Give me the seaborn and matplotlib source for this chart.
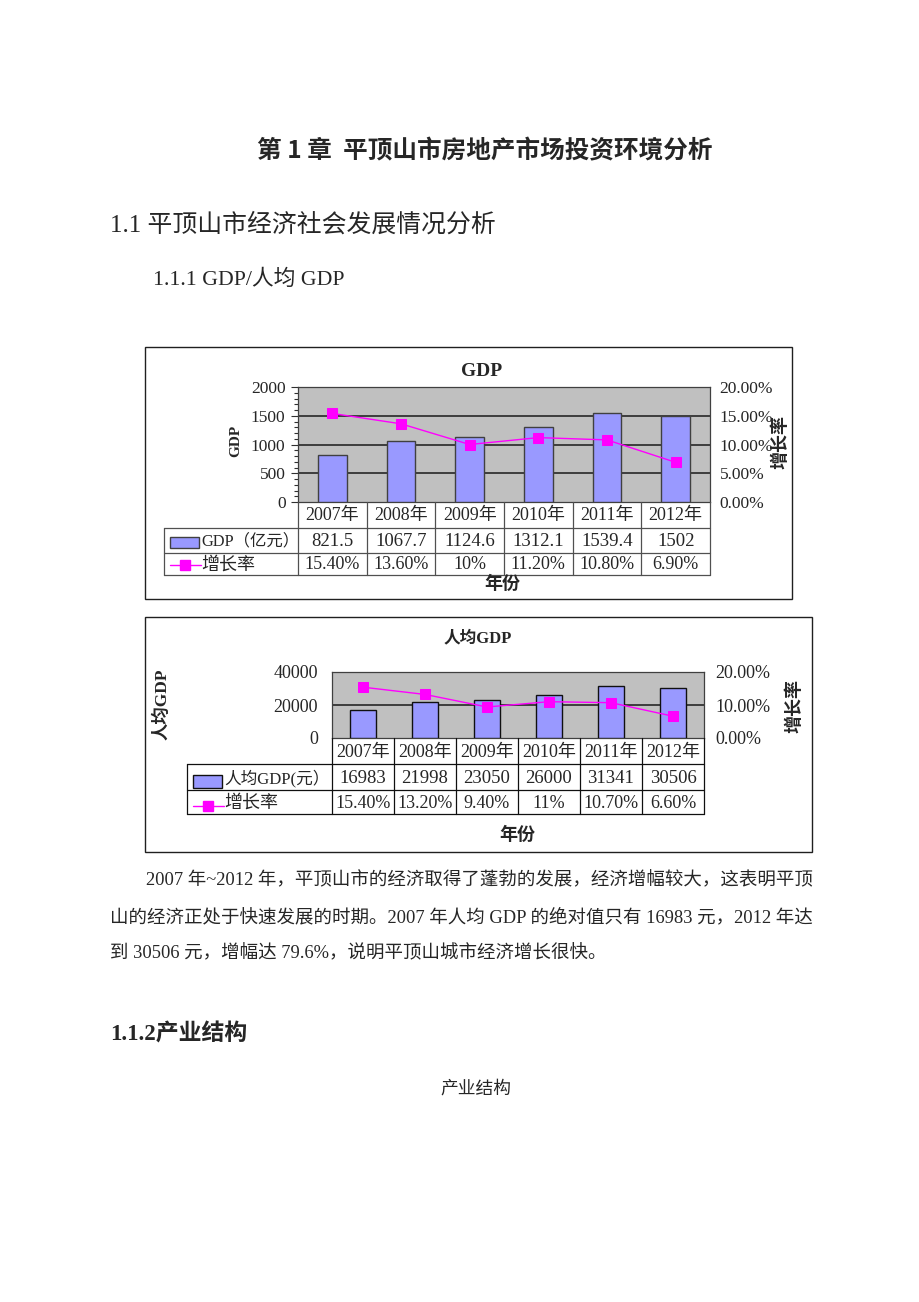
import numpy as np
import matplotlib
matplotlib.use('Agg')
import matplotlib.pyplot as plt
import matplotlib.patches as mpatches
from matplotlib.lines import Line2D
from matplotlib.ticker import MultipleLocator
import seaborn as sns

# ---------------- data ----------------
years = ['2007年', '2008年', '2009年', '2010年', '2011年', '2012年']
gdp = [821.5, 1067.7, 1124.6, 1312.1, 1539.4, 1502]
gdp_growth = [15.4, 13.6, 10.0, 11.2, 10.8, 6.9]
gdp_growth_labels = ['15.40%', '13.60%', '10%', '11.20%', '10.80%', '6.90%']
pc_gdp = [16983, 21998, 23050, 26000, 31341, 30506]
pc_growth = [15.4, 13.2, 9.4, 11.0, 10.7, 6.6]
pc_growth_labels = ['15.40%', '13.20%', '9.40%', '11%', '10.70%', '6.60%']
gdp_ticks = [0, 500, 1000, 1500, 2000]
gdp_rate_ticks = [0, 5, 10, 15, 20]
pc_ticks = [0, 20000, 40000]
pc_rate_ticks = [0, 10, 20]

sns.set_style('white')
plt.rcParams['font.family'] = ['Liberation Serif', 'Noto Sans CJK SC']
LC = ['Liberation Serif', 'Noto Sans CJK SC']
CJK = ['Noto Sans CJK SC']

W, H = 920, 1302
fig = plt.figure(figsize=(W / 100, H / 100), dpi=100)
fig.patch.set_facecolor('white')

BAR = '#9999FF'
LINE = '#FF00FF'


def px_axes(x0, y0, x1, y1, **kw):
    return fig.add_axes([x0 / W, 1 - y1 / H, (x1 - x0) / W, (y1 - y0) / H], **kw)


def ftext(x, y, s, **kw):
    fig.text(x / W, 1 - y / H, s, **kw)


def box(x0, y0, x1, y1, lw=1.0, color='black'):
    fig.add_artist(mpatches.Rectangle((x0 / W, 1 - y1 / H), (x1 - x0) / W, (y1 - y0) / H,
                                      transform=fig.transFigure, fill=False, lw=lw, ec=color))


def chart(cfg, vals, growth, grow_labels, val_labels, yticks, rticks):
    px0, py0, px1, py1 = cfg['plot']
    ax = px_axes(px0, py0, px1, py1)
    ax.set_facecolor('#C0C0C0')
    sns.barplot(x=years, y=vals, ax=ax, color=BAR, saturation=1, width=0.42,
                edgecolor=cfg['bar_edge'], linewidth=1.0, zorder=3)
    ax.set_xlim(-0.5, 5.5)
    ax.set_ylim(yticks[0], yticks[-1])
    for v in yticks[1:-1]:
        ax.axhline(v, color='#1a1a1a', lw=1.1, zorder=1)
    ax.set_yticks(yticks)
    ax.set_yticklabels([str(t) for t in yticks], fontsize=cfg['tick_fs'])
    ax.set_xticks([])
    ax.set_xlabel('')
    ax.set_ylabel('')
    for s in ax.spines.values():
        s.set_color('#404040')
        s.set_linewidth(0.9)
    if cfg['minor']:
        ax.yaxis.set_minor_locator(MultipleLocator(cfg['minor']))
        ax.tick_params(axis='y', which='major', length=5, width=0.8, color='#303030',
                       pad=cfg['lpad'], direction='out', left=True)
        ax.tick_params(axis='y', which='minor', length=3, width=0.8, color='#303030',
                       direction='out', left=True)
    else:
        ax.tick_params(axis='y', length=0, pad=cfg['lpad'], left=True)

    axr = ax.twinx()
    sns.lineplot(x=np.arange(len(years)), y=growth, ax=axr, color=LINE, marker='s',
                 markersize=cfg['ms'], markeredgecolor=LINE, linewidth=1.0, zorder=5)
    axr.set_xlim(-0.5, 5.5)
    axr.set_ylim(rticks[0], rticks[-1])
    axr.set_yticks(rticks)
    axr.set_yticklabels(['%.2f%%' % t for t in rticks], fontsize=cfg['tick_fs'])
    axr.tick_params(axis='y', length=0, pad=cfg['rpad'])
    axr.set_ylabel('')
    for s in axr.spines.values():
        s.set_visible(False)

    # table
    tl = cfg['tab_left']
    rows = cfg['rows']
    colw = (px1 - px0) / len(years)
    xleft = -0.5 - (px0 - tl) / colw
    tab = px_axes(tl, py1, px1, rows[-1])
    tab.set_xlim(xleft, 5.5)
    tab.set_ylim(rows[-1], py1)
    tab.axis('off')

    def tx(p):
        return xleft + (p - tl) / colw

    lc = cfg['tab_color']
    for i in range(len(years) + 1):
        tab.add_line(Line2D([i - 0.5, i - 0.5], [py1, rows[-1]], color=lc, lw=0.9, clip_on=False))
    tab.add_line(Line2D([xleft, xleft], [rows[1], rows[-1]], color=lc, lw=0.9, clip_on=False))
    for r in rows[1:]:
        tab.add_line(Line2D([xleft, 5.5], [r, r], color=lc, lw=0.9, clip_on=False))

    fs = cfg['tab_fs']
    for i, y in enumerate(years):
        tab.text(i, (py1 + rows[1]) / 2 + 1, y, ha='center', va='center', fontsize=fs, family=LC)
        tab.text(i, (rows[1] + rows[2]) / 2 + 1, val_labels[i], ha='center', va='center',
                 fontsize=fs + 0.5, family=LC)
        tab.text(i, (rows[2] + rows[3]) / 2 + 1, grow_labels[i], ha='center', va='center',
                 fontsize=fs, family=LC)

    # legend keys
    k0, k1 = cfg['key_x']
    ky0, ky1 = cfg['key_y']
    tab.add_patch(mpatches.Rectangle((tx(k0), ky0), tx(k1) - tx(k0), ky1 - ky0,
                                     fc=BAR, ec=cfg['bar_edge'], lw=1.0, clip_on=False))
    ly = cfg['line_y']
    tab.add_line(Line2D([tx(k0), tx(k1 + 2)], [ly, ly], color=LINE, lw=1.0, clip_on=False))
    tab.add_line(Line2D([tx((k0 + k1 + 2) / 2)], [ly], color=LINE, marker='s',
                        markersize=cfg['ms'], clip_on=False))
    tab.text(tx(cfg['leg_text_x']), (rows[1] + rows[2]) / 2 + 1, cfg['legend_name'],
             ha='left', va='center', fontsize=cfg['leg_fs'], family=LC)
    tab.text(tx(cfg['leg_text_x']), (rows[2] + rows[3]) / 2 + 1, '增长率',
             ha='left', va='center', fontsize=cfg['leg_fs2'], family=LC)

    # titles and labels
    bx = cfg['box']
    box(*bx, lw=1.0, color='#202020')
    tx_, ty_ = cfg['title_xy']
    ftext(tx_, ty_, cfg['title'], ha='center', va='center', fontsize=cfg['title_fs'],
          fontweight='bold', family=LC)
    yx, yy = cfg['ylab_xy']
    ftext(yx, yy, cfg['ylab'], ha='center', va='center', rotation=90, fontsize=cfg['ylab_fs'],
          fontweight='bold', family=LC)
    rx, ry = cfg['rlab_xy']
    ftext(rx, ry, '增长率', ha='center', va='center', rotation=90, fontsize=cfg['rlab_fs'],
          fontweight='bold', family=CJK)
    xx, xy = cfg['xlab_xy']
    ftext(xx, xy, '年份', ha='center', va='center', fontsize=cfg['xlab_fs'],
          fontweight='bold', family=CJK)


cfg1 = dict(plot=(298, 387, 710, 502), tab_left=164, rows=[502, 527.5, 552.5, 575],
            bar_edge='#404040', tick_fs=12.5, lpad=4, rpad=7, minor=100, ms=7,
            tab_color='#505050', tab_fs=13, key_x=(170, 199), key_y=(537, 548), line_y=565,
            leg_text_x=201, legend_name='GDP（亿元）', leg_fs=11.8, leg_fs2=13,
            box=(145, 347, 792, 599), title='GDP', title_xy=(482, 372), title_fs=14,
            ylab='GDP', ylab_xy=(236, 441), ylab_fs=11, rlab_xy=(780, 442), rlab_fs=13,
            xlab_xy=(502, 583), xlab_fs=13)
chart(cfg1, gdp, gdp_growth, gdp_growth_labels, ['%g' % v for v in gdp],
      gdp_ticks, gdp_rate_ticks)

cfg2 = dict(plot=(332, 672, 704, 738), tab_left=187, rows=[738, 764, 790, 814],
            bar_edge='#101010', tick_fs=13, lpad=10, rpad=8, minor=None, ms=7.5,
            tab_color='#101010', tab_fs=13, key_x=(193, 222), key_y=(775, 788), line_y=805.5,
            leg_text_x=224, legend_name='人均GDP(元）', leg_fs=12, leg_fs2=13,
            box=(145, 617, 812, 852), title='人均GDP', title_xy=(478, 638), title_fs=12,
            ylab='人均GDP', ylab_xy=(162, 704), ylab_fs=12.5, rlab_xy=(794, 706), rlab_fs=13,
            xlab_xy=(517, 834), xlab_fs=13)
chart(cfg2, pc_gdp, pc_growth, pc_growth_labels, [str(v) for v in pc_gdp],
      pc_ticks, pc_rate_ticks)

# ---------------- page text ----------------
ftext(485, 151, '第 1 章  平顶山市房地产市场投资环境分析', ha='center', va='center',
      fontsize=17.7, fontweight='bold', family=CJK)
ftext(110, 225, '1.1 平顶山市经济社会发展情况分析', ha='left', va='center',
      fontsize=17.9, family=LC)
ftext(153, 280, '1.1.1 GDP/人均 GDP', ha='left', va='center', fontsize=15.7, family=LC)

para = ['2007 年~2012 年，平顶山市的经济取得了蓬勃的发展，经济增幅较大，这表明平顶',
        '山的经济正处于快速发展的时期。2007 年人均 GDP 的绝对值只有 16983 元，2012 年达',
        '到 30506 元，增幅达 79.6%，说明平顶山城市经济增长很快。']
ftext(146, 880, para[0], ha='left', va='center', fontsize=13.3, family=LC)
ftext(110, 917, para[1], ha='left', va='center', fontsize=13.3, family=LC)
ftext(110, 953, para[2], ha='left', va='center', fontsize=13.3, family=LC)

ftext(110, 1034, '1.1.2产业结构', ha='left', va='center', fontsize=16.5, fontweight='bold',
      family=LC)
ftext(476, 1089, '产业结构', ha='center', va='center', fontsize=12.8, family=CJK)

fig.savefig('out.png', dpi=100, facecolor='white')
